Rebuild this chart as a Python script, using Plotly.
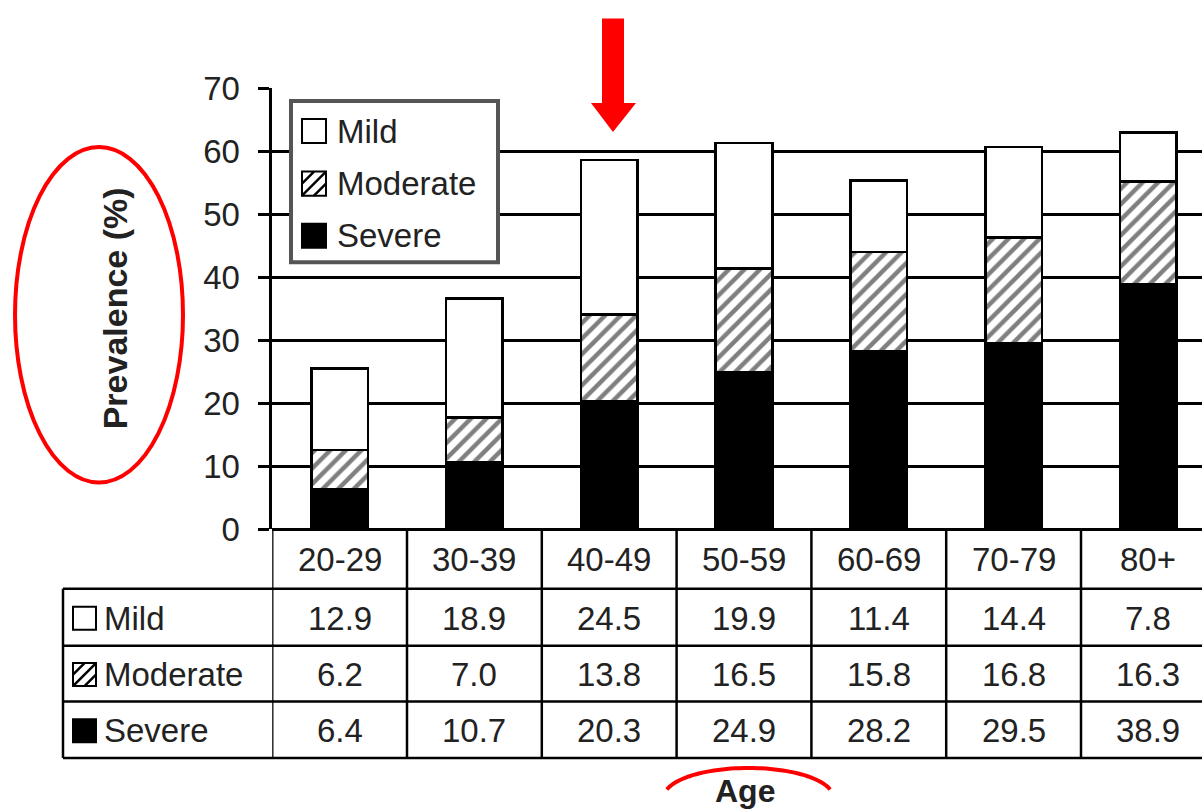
import math
import plotly.graph_objects as go

# ---------------- data ----------------
age_groups = ["20-29", "30-39", "40-49", "50-59", "60-69", "70-79", "80+"]
mild = [12.9, 18.9, 24.5, 19.9, 11.4, 14.4, 7.8]
moderate = [6.2, 7.0, 13.8, 16.5, 15.8, 16.8, 16.3]
severe = [6.4, 10.7, 20.3, 24.9, 28.2, 29.5, 38.9]
series_names = ["Mild", "Moderate", "Severe"]
y_ticks = [0, 10, 20, 30, 40, 50, 60, 70]
y_title = "Prevalence (%)"
x_title = "Age"

# ---------------- geometry helpers ----------------
W, H = 1202, 811
FONT = "Arial, 'Liberation Sans', sans-serif"
TXT = "#222222"
V_OFF, V_SCALE = 18.1, 0.953   # vertical calibration of the photographed page


def T(t):
    """layout pixel row for a target row t of the picture"""
    return (t - V_OFF) / V_SCALE


def py2p(t):
    return 1 - T(t) / H


def P(px, t):
    return px / W, py2p(t)


Y0_PX, Y70_PX = 528.6, 88.3
X_LEFT_PX = 272.2
CAT0_PX, STEP_PX = 339.6, 134.8
x_end = (W - CAT0_PX) / STEP_PX

fig = go.Figure()

pattern_mod = dict(shape="/", fgcolor="black", bgcolor="white", size=11, solidity=0.4)
fig.add_trace(go.Bar(x=age_groups, y=severe, name="Severe", width=0.42,
                     marker=dict(color="black", line=dict(color="black", width=2.5))))
fig.add_trace(go.Bar(x=age_groups, y=moderate, name="Moderate", width=0.42,
                     marker=dict(color="white", pattern=pattern_mod,
                                 line=dict(color="black", width=2.5))))
fig.add_trace(go.Bar(x=age_groups, y=mild, name="Mild", width=0.42,
                     marker=dict(color="white", line=dict(color="black", width=2.5))))

shapes = []
annotations = []
LW = 2.5


def hline(t, px0, px1, w=LW, color="black"):
    x0, y0 = P(px0, t)
    x1, _ = P(px1, t)
    shapes.append(dict(type="line", xref="paper", yref="paper", x0=x0, x1=x1, y0=y0, y1=y0,
                       line=dict(color=color, width=w)))


def symbol(kind, px0, t0, s):
    x0, y0 = P(px0, t0 + s)
    x1, y1 = P(px0 + s, t0)
    fill = {"Mild": "white", "Moderate": "white", "Severe": "black"}[kind]
    shapes.append(dict(type="rect", xref="paper", yref="paper", x0=x0, x1=x1, y0=y0, y1=y1,
                       fillcolor=fill, line=dict(color="black", width=2), layer="above"))
    if kind == "Moderate":
        for c in (-s * 0.5, 0.0, s * 0.5):
            if c >= 0:
                a, b = (0, c), (s - c, s)
            else:
                a, b = (-c, 0), (s, s + c)
            ax, ay = P(px0 + a[0], t0 + s - a[1])
            bx, by = P(px0 + b[0], t0 + s - b[1])
            shapes.append(dict(type="line", xref="paper", yref="paper", x0=ax, y0=ay, x1=bx, y1=by,
                               line=dict(color="black", width=2.5), layer="above"))


# ---------------- legend (custom) ----------------
lx0, ly0 = P(291, 262)
lx1, ly1 = P(498, 101)
shapes.append(dict(type="rect", xref="paper", yref="paper", x0=lx0, x1=lx1, y0=ly0, y1=ly1,
                   fillcolor="white", line=dict(color="#555555", width=4), layer="above"))
legend_y = [131, 183.5, 235.5]
for name, yc in zip(series_names, legend_y):
    symbol(name, 302, yc - 12, 24)
    annotations.append(dict(text=name, xref="paper", yref="paper", x=335 / W, y=py2p(yc),
                            xanchor="left", yanchor="middle", showarrow=False,
                            font=dict(family=FONT, size=33, color=TXT)))

# ---------------- data table ----------------
ROW_Y = [588, 645, 700.5, 757]
for t in ROW_Y:
    hline(t, 63, W)
for k in range(len(age_groups)):
    shapes.append(dict(type="line", xref="x", yref="paper", x0=k - 0.5, x1=k - 0.5,
                       y0=py2p(Y0_PX), y1=py2p(757), line=dict(color="black", width=LW)))
shapes.append(dict(type="line", xref="paper", yref="paper", x0=63 / W, x1=63 / W,
                   y0=py2p(588), y1=py2p(757), line=dict(color="black", width=LW)))

for cat in age_groups:
    annotations.append(dict(text=cat, xref="x", yref="paper", x=cat, y=py2p(559),
                            xanchor="center", yanchor="middle", showarrow=False,
                            font=dict(family=FONT, size=33, color=TXT)))

table_rows = [("Mild", mild), ("Moderate", moderate), ("Severe", severe)]
for r, (name, vals) in enumerate(table_rows):
    yc = (ROW_Y[r] + ROW_Y[r + 1]) / 2 + 1
    symbol(name, 73, yc - 11.5, 23)
    annotations.append(dict(text=name, xref="paper", yref="paper", x=102 / W, y=py2p(yc),
                            xanchor="left", yanchor="middle", showarrow=False,
                            font=dict(family=FONT, size=33, color=TXT)))
    for cat, v in zip(age_groups, vals):
        annotations.append(dict(text=f"{v:.1f}", xref="x", yref="paper", x=cat, y=py2p(yc),
                                xanchor="center", yanchor="middle", showarrow=False,
                                font=dict(family=FONT, size=33, color=TXT)))

# ---------------- titles ----------------
annotations.append(dict(text=f"<b>{y_title}</b>", xref="paper", yref="paper", x=115 / W, y=py2p(308),
                        xanchor="center", yanchor="middle", textangle=-90, showarrow=False,
                        font=dict(family=FONT, size=34, color=TXT)))
annotations.append(dict(text=f"<b>{x_title}</b>", xref="paper", yref="paper", x=745 / W, y=py2p(790),
                        xanchor="center", yanchor="middle", showarrow=False,
                        font=dict(family=FONT, size=32, color=TXT)))

# ---------------- red highlights ----------------
RED = "#FF0000"


def Pc(px, t):
    # clamp inside the page
    yy = min(max(T(t), 0.5), H - 2)
    return px / W, 1 - yy / H


arrow_pts = [(602, 10), (624, 10), (624, 103), (636, 103), (613, 132), (591, 103), (602, 103)]
path = "M " + " L ".join(f"{Pc(a, b)[0]:.5f},{Pc(a, b)[1]:.5f}" for a, b in arrow_pts) + " Z"
shapes.append(dict(type="path", xref="paper", yref="paper", path=path,
                   fillcolor=RED, line=dict(color=RED, width=0), layer="above"))

e1x0, e1y0 = P(15, 482)
e1x1, e1y1 = P(183, 147)
shapes.append(dict(type="circle", xref="paper", yref="paper", x0=e1x0, y0=e1y0, x1=e1x1, y1=e1y1,
                   line=dict(color=RED, width=4), layer="above"))

# second ellipse (around "Age"), cut at the bottom edge of the picture
cx, cy, rx, ry = 748.5, 796.0, 84.5, 29.0
pts = []
for k in range(0, 361, 3):
    a = math.radians(k)
    px, t = cx + rx * math.cos(a), cy - ry * math.sin(a)
    if T(t) <= H - 2:
        pts.append((px, t))
start = 0
for i in range(1, len(pts)):
    if abs(pts[i][0] - pts[i - 1][0]) > 40:
        start = i
pts = pts[start:] + pts[:start]
arc = "M " + " L ".join(f"{P(a, b)[0]:.5f},{P(a, b)[1]:.5f}" for a, b in pts)
shapes.append(dict(type="path", xref="paper", yref="paper", path=arc,
                   line=dict(color=RED, width=4), layer="above"))

fig.update_layout(
    width=W, height=H,
    margin=dict(l=0, r=0, t=0, b=0),
    paper_bgcolor="white", plot_bgcolor="white",
    barmode="stack", showlegend=False,
    shapes=shapes, annotations=annotations,
    xaxis=dict(type="category", categoryorder="array", categoryarray=age_groups,
               range=[-0.5, x_end], domain=[X_LEFT_PX / W, 1],
               showticklabels=False, showgrid=False, zeroline=False, showline=False,
               ticks="", fixedrange=True),
    yaxis=dict(range=[0, 70], domain=[py2p(Y0_PX), py2p(Y70_PX)],
               tickmode="array", tickvals=y_ticks, ticktext=[str(t) for t in y_ticks],
               ticks="outside", ticklen=11, tickwidth=LW, tickcolor="black",
               showgrid=True, gridcolor="black", gridwidth=LW,
               zeroline=True, zerolinecolor="black", zerolinewidth=LW,
               showline=True, linecolor="black", linewidth=LW,
               tickfont=dict(family=FONT, size=33, color=TXT),
               ticklabelstandoff=12, fixedrange=True),
)

post = (
    "document.documentElement.style.margin='0';"
    "document.documentElement.style.padding='0';"
    "document.documentElement.style.overflow='hidden';"
    "document.body.style.margin='0';"
    "document.body.style.padding='0';"
    "document.body.style.overflow='hidden';"
    "var d=document.getElementById('{plot_id}');"
    "d.style.position='fixed';d.style.left='0px';d.style.top='0px';"
)
fig.write_html("out.html", config={"displayModeBar": False}, post_script=post)
